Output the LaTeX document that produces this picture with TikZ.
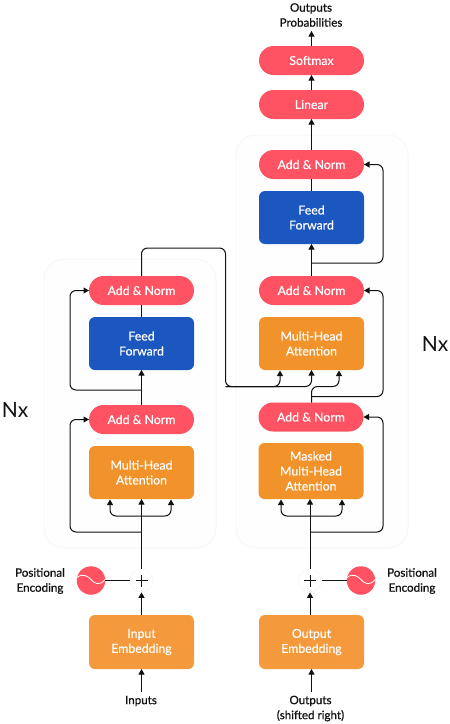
\documentclass[tikz,border=0pt]{standalone}
\usepackage{fontspec}
\setmainfont{Lato}[FakeBold=0.3]
\newfontfamily\labfont{Lato}[FakeBold=0.7]
\newfontfamily\nxfont{Lato}
\usetikzlibrary{arrows.meta,calc}
\definecolor{cred}{HTML}{FF5364}
\definecolor{corange}{HTML}{F2922B}
\definecolor{corangel}{HTML}{F49A3C}
\definecolor{cblue}{HTML}{1C57BF}
\definecolor{cline}{HTML}{111111}
\definecolor{cpanel}{HTML}{FEFEFE}
\definecolor{cpanelb}{HTML}{F7F7F7}
\tikzset{
  box/.style={inner sep=0pt,outer sep=0pt,minimum width=105pt,text=white,align=center,font=\fontsize{12.3}{15}\selectfont},
  pill/.style={box,fill=cred,minimum height=29pt,rounded corners=14.5pt},
  orangebox/.style={box,fill=corange,rounded corners=6pt},
  bluebox/.style={box,fill=cblue,minimum height=53pt,rounded corners=6pt},
  panel/.style={draw=cpanelb,fill=cpanel,line width=1pt,rounded corners=20pt},
  conn/.style={draw=cline,line width=1pt,rounded corners=6pt},
  arr/.style={conn,-{Triangle[length=5.5pt,width=6pt]}},
  lab/.style={text=cline,align=center,inner sep=0pt,font=\labfont\fontsize{11.6}{15}\selectfont},
  nx/.style={text=cline,inner sep=0pt,font=\nxfont\fontsize{21}{24}\selectfont},
  pluscirc/.style={circle,fill=white,draw=cpanelb,line width=.8pt,minimum size=23pt,inner sep=0pt},
  pecirc/.style={circle,fill=cred,minimum size=28.5pt,inner sep=0pt},
}
\begin{document}
\begin{tikzpicture}[x=1pt,y=-1pt]
\useasboundingbox (0,0) rectangle (450,724);
\fill[white] (0,0) rectangle (450,724);
% panels
\draw[panel] (44,259) rectangle (216,548);
\draw[panel] (236,135) rectangle (408,548);
% nodes
\node[pill] (softmax) at (311.5,60.5) {Softmax};
\node[pill] (linear) at (311.5,104.5) {Linear};
\node[pill] (anr3) at (311.5,164.5) {Add \& Norm};
\node[bluebox] (ffr) at (311.5,217.5) {Feed\\Forward};
\node[pill] (anr2) at (311.5,290.5) {Add \& Norm};
\node[orangebox,minimum height=53pt] (mhr) at (311.5,343.5) {Multi-Head\\Attention};
\node[pill] (anr1) at (311,417) {Add \& Norm};
\node[orangebox,minimum height=56pt] (mmh) at (311,471) {Masked\\Multi-Head\\Attention};
\node[orangebox,fill=corangel,minimum height=54pt] (oemb) at (311.5,642) {Output\\Embedding};
\node[pill] (anl2) at (141.5,290.5) {Add \& Norm};
\node[bluebox] (ffl) at (141.5,343.5) {Feed\\Forward};
\node[pill] (anl1) at (141.5,419.5) {Add \& Norm};
\node[orangebox,minimum height=53pt] (mhl) at (141.5,472.5) {Multi-Head\\Attention};
\node[orangebox,fill=corangel,minimum height=54pt] (iemb) at (141.5,642) {Input\\Embedding};
\node[pluscirc] (plusl) at (141.5,580.5) {};
\node[pluscirc] (plusr) at (310,580.5) {};
\node[pecirc] (pel) at (91,580.5) {};
\node[pecirc] (per) at (361,580.5) {};
\node[lab] (inputs) at (141,701) {Inputs};
\node[lab] (outputs) at (310.5,708.5) {Outputs\\(shifted right)};
\node[lab] (probs) at (311,15) {Outputs\\Probabilities};
\node[lab] (pelab) at (40,581) {Positional\\Encoding};
\node[lab] (perlab) at (412,581) {Positional\\Encoding};
\node[nx] (nxl) at (15,410) {Nx};
\node[nx] (nxr) at (435,344) {Nx};
% free ends and junctions
\coordinate (probsb) at (311.5,31);
\coordinate (inb) at (141.5,692);
\coordinate (outb) at (311.5,692);
\coordinate (lbranch) at (141.5,516);
\coordinate (lres1) at (141.5,532);
\coordinate (lres2) at (141.5,390);
\coordinate (rbranch) at (310,516);
\coordinate (rres1) at (310,532);
\coordinate (rres2) at (311.5,263);
\coordinate (rres3) at (311.5,396.5);
\coordinate (mhl1) at (110,499.5);
\coordinate (mhl3) at (171,499.5);
\coordinate (mmh1) at (281,499.5);
\coordinate (mmh3) at (342,499.5);
\coordinate (mhr1) at (280,370.5);
\coordinate (mhr3) at (339,370.5);
% plus signs
\foreach \c in {plusl,plusr}{
  \draw[cline,line width=1pt] ($(\c)+(-6,0)$) -- ($(\c)+(6,0)$) ($(\c)+(0,-6)$) -- ($(\c)+(0,6)$);
}
% waves
\foreach \c in {pel,per}{
  \draw[white,line width=.8pt] ($(\c)+(-14,-3)$) .. controls ($(\c)+(-8,-8)$) and ($(\c)+(-3,-4)$) .. ($(\c)+(0,-1)$) .. controls ($(\c)+(3,3)$) and ($(\c)+(9,6)$) .. ($(\c)+(14,-1)$);
}
% simple links
\draw[arr] (inb) -- (iemb.south);
\draw[arr] (outb) -- (oemb.south);
\draw[arr] (iemb.north) -- (plusl.south);
\draw[arr] (oemb.north -| plusr) -- (plusr.south);
\draw[conn] (pel.east) -- (plusl.west);
\draw[conn] (per.west) -- (plusr.east);
\draw[arr] (softmax.north) -- (probsb);
\draw[arr] (linear.north) -- (softmax.south);
\draw[arr] (anr3.north) -- (linear.south);
\draw[conn] (ffr.north) -- (anr3.south);
\draw[arr] (anr2.north) -- (ffr.south);
\draw[conn] (ffl.north) -- (anl2.south);
\draw[arr] (anl1.north) -- (ffl.south);
% left encoder attention
\draw[arr] (plusl.north) -- (mhl.south);
\draw[arr] (lbranch) -- (lbranch -| mhl1) -- (mhl1);
\draw[arr] (lbranch) -- (lbranch -| mhl3) -- (mhl3);
% left residuals
\coordinate (lx) at (70,0);
\draw[arr] (lres1) -- (lres1 -| lx) -- (anl1.west -| lx) -- (anl1.west);
\draw[arr] (lres2) -- (lres2 -| lx) -- (anl2.west -| lx) -- (anl2.west);
% right decoder masked attention
\draw[arr] (plusr.north) -- (mmh.south -| plusr);
\draw[arr] (rbranch) -- (rbranch -| mmh1) -- (mmh1);
\draw[arr] (rbranch) -- (rbranch -| mmh3) -- (mmh3);
% right residuals
\coordinate (rx) at (383,0);
\draw[arr] (rres1) -- (rres1 -| rx) -- (anr1.east -| rx) -- (anr1.east);
\draw[arr] (rres2) -- (rres2 -| rx) -- (anr3.east -| rx) -- (anr3.east);
\draw[arr] (rres3) -- (rres3 -| rx) -- (anr2.east -| rx) -- (anr2.east);
\coordinate (enc) at (225.5,386.5);
\draw[arr] (anr1.north -| rres3) -- (enc -| rres3) -- (enc -| mhr3) -- (mhr3);
% encoder to decoder
\coordinate (etop) at (225.5,248);
\draw[conn] (anl2.north) -- (etop -| anl2) -- (etop) -- (enc) -- (enc -| mhr1);
\draw[arr] (enc) -- (enc -| mhr1) -- (mhr1);
\draw[arr] (enc) -- (enc -| mhr.south) -- (mhr.south);
\end{tikzpicture}
\end{document}
